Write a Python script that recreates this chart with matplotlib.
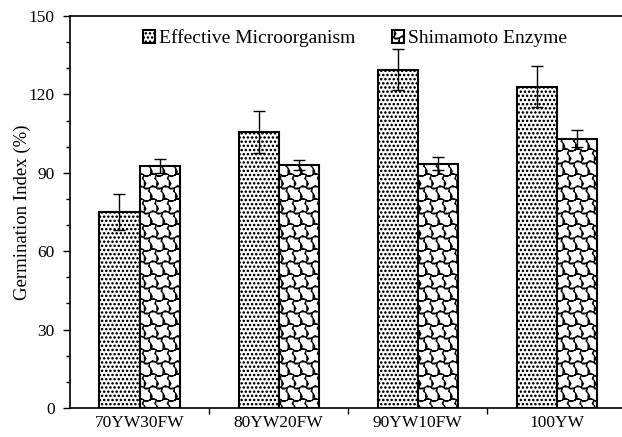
import warnings
import numpy as np
import matplotlib
matplotlib.use("Agg")
import matplotlib.pyplot as plt
import matplotlib.hatch as mhatch
from matplotlib.path import Path
from matplotlib.ticker import MultipleLocator, FixedLocator

warnings.filterwarnings("ignore")

# ---------------- data ----------------
categories = ["70YW30FW", "80YW20FW", "90YW10FW", "100YW"]
series_names = ["Effective Microorganism", "Shimamoto Enzyme"]
em_values = [75.0, 105.5, 129.5, 123.0]
em_errors = [7.0, 8.0, 8.0, 8.0]
se_values = [92.5, 93.0, 93.5, 103.0]
se_errors = [2.7, 1.8, 2.5, 3.2]
y_label = "Germination Index (%)"


# ---------------- custom hatches ----------------
class DotHatch(mhatch.Shapes):
    size = 0.17
    filled = True

    def __init__(self, hatch, density):
        self.num_rows = hatch.count('d') * 12
        path = Path.unit_circle()
        self.shape_vertices = path.vertices
        self.shape_codes = path.codes
        super().__init__(hatch, density)


class WaveHatch(mhatch.HatchPatternBase):
    # brick-like pattern with wavy, slanted joints; super-cell 1 x 2 units
    polys = [
        [(0.0, 0.0), (0.2, 0.15), (0.45, 0.05), (0.6, -0.12), (0.8, -0.12), (1.0, 0.0)],
        [(0.0, 0.0), (0.18, 0.3), (0.05, 0.55), (-0.12, 0.7), (0.0, 1.0)],
        [(0.0, 1.0), (0.2, 1.15), (0.45, 1.05), (0.6, 0.88), (0.8, 0.88), (1.0, 1.0)],
        [(0.5, 1.0), (0.68, 1.3), (0.55, 1.55), (0.38, 1.7), (0.5, 2.0)],
    ]

    def __init__(self, hatch, density):
        self.n = hatch.count('w') * 4
        if self.n == 0:
            self.num_vertices = 0
        else:
            self.ncol = self.n
            self.nrow = self.n // 2
            cells = (self.ncol + 2) * (self.nrow + 2)
            self.num_vertices = cells * sum(len(p) for p in self.polys)

    def set_vertices_and_codes(self, vertices, codes):
        sx = 1.0 / self.ncol
        sy = 1.0 / self.nrow / 2.0
        vs, cs = [], []
        for i in range(-1, self.ncol + 1):
            for j in range(-1, self.nrow + 1):
                for poly in self.polys:
                    arr = np.array(poly) * [sx, sy] + [i * sx, j * 2 * sy]
                    vs.append(arr)
                    c = np.full(len(poly), Path.LINETO, dtype=Path.code_type)
                    c[0] = Path.MOVETO
                    cs.append(c)
        vertices[:] = np.concatenate(vs)
        codes[:] = np.concatenate(cs)


mhatch._hatch_types.append(DotHatch)
mhatch._hatch_types.append(WaveHatch)

# ---------------- plot ----------------
plt.rcParams['font.family'] = ['Liberation Serif', 'DejaVu Serif']
plt.rcParams['hatch.linewidth'] = 0.8
plt.rcParams['hatch.color'] = 'black'

fig = plt.figure(figsize=(6.22, 4.37), dpi=100)
ax = fig.add_axes([70 / 622, 29 / 437, 1 - 70 / 622, 392 / 437])

x = np.arange(len(categories))
w = 0.288
ax.bar(x - w / 2, em_values, w, facecolor='white', edgecolor='black',
       linewidth=1.5, hatch='dd', label=series_names[0], zorder=2)
ax.bar(x + w / 2, se_values, w, facecolor='white', edgecolor='black',
       linewidth=1.5, hatch='ww', label=series_names[1], zorder=2)
ax.errorbar(x - w / 2, em_values, yerr=em_errors, fmt='none', ecolor='black',
            elinewidth=1.0, capsize=4, capthick=1.0, zorder=3)
ax.errorbar(x + w / 2, se_values, yerr=se_errors, fmt='none', ecolor='black',
            elinewidth=1.0, capsize=4, capthick=1.0, zorder=3)

ax.set_xlim(-0.5, 3.47)
ax.set_ylim(0, 150)
ax.yaxis.set_major_locator(MultipleLocator(30))
ax.yaxis.set_minor_locator(MultipleLocator(10))
ax.tick_params(axis='y', which='major', direction='out', length=5,
               width=1, labelsize=12.5, pad=6)
ax.tick_params(axis='y', which='minor', direction='out', length=3, width=1)

ax.xaxis.set_major_locator(FixedLocator([0.5, 1.5, 2.5]))
ax.xaxis.set_minor_locator(FixedLocator(list(x)))
ax.set_xticklabels([], minor=False)
ax.set_xticks(x, categories, minor=True)
ax.tick_params(axis='x', which='major', direction='out', length=4, width=1)
ax.tick_params(axis='x', which='minor', length=0, labelsize=12.5, pad=5)

ax.spines['right'].set_visible(False)
for s in ['left', 'top', 'bottom']:
    ax.spines[s].set_linewidth(1.2)

ax.set_ylabel(y_label, fontsize=13.5, labelpad=-2)

leg = ax.legend(loc='upper center', bbox_to_anchor=(0.516, 1.01), ncol=2,
                frameon=False, fontsize=14, handlelength=0.6,
                handleheight=0.6, handletextpad=0.2, columnspacing=1.9)

fig.savefig("out.png", dpi=100)
